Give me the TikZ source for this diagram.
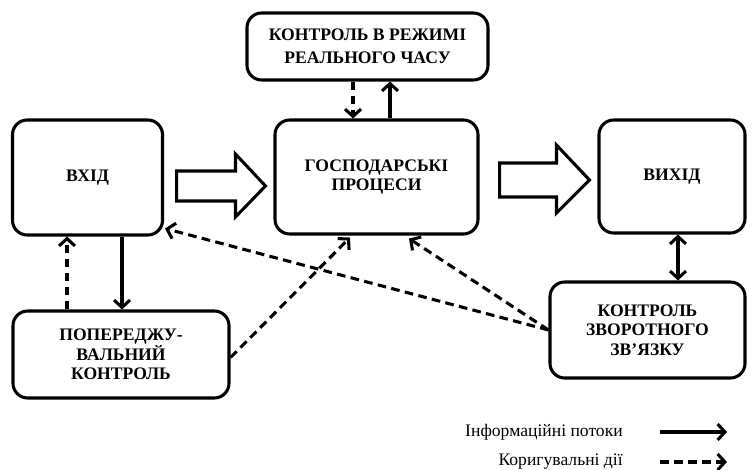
\documentclass[tikz,border=0pt]{standalone}
\usepackage{fontspec}
\setmainfont{Liberation Serif}[BoldFont={Liberation Serif Bold}]
\usetikzlibrary{arrows.meta,calc}
\begin{document}
\begin{tikzpicture}[x=0.75pt,y=-0.75pt,
 box/.style={draw, line width=2.3pt, rounded corners=11pt, align=center, font=\bfseries\fontsize{13.2}{14.8}\selectfont, inner sep=2pt},
 info/.style={line width=2.3pt, -{Straight Barb[length=5.5pt,width=12pt,line width=2.3pt]}},
 infob/.style={line width=2.3pt, {Straight Barb[length=5.5pt,width=12pt,line width=2.3pt]}-{Straight Barb[length=5.5pt,width=12pt,line width=2.3pt]}},
 corr/.style={info, dash pattern=on 6.5pt off 4pt},
 big/.style={draw, line width=2.3pt, line join=miter},
 legend/.style={anchor=east, inner sep=0pt, font=\fontsize{13.2}{15}\selectfont}]
\useasboundingbox (0,0) rectangle (752,470);
\node[box, minimum width=112.5pt, minimum height=86.25pt] (vhid) at (87.5,177.5) {ВХІД};
\node[box, minimum width=152.25pt, minimum height=85.5pt] (gosp) at (376.5,177) {ГОСПОДАРСЬКІ\\ПРОЦЕСИ};
\node[box, minimum width=109.5pt, minimum height=84.75pt] (vyhid) at (672,176.5) {ВИХІД};
\node[box, minimum width=146.25pt, minimum height=72pt] (zv) at (647.5,330) {КОНТРОЛЬ\\ЗВОРОТНОГО\\ЗВ’ЯЗКУ};
\node[box, minimum width=162pt, minimum height=65.25pt] (pop) at (121,354.5) {ПОПЕРЕДЖУ-\\ВАЛЬНИЙ\\КОНТРОЛЬ};
\node[box, minimum width=180.75pt, minimum height=50.25pt, font=\bfseries\fontsize{13.2}{17}\selectfont] (rt) at (367.5,46.5) {КОНТРОЛЬ В РЕЖИМІ\\РЕАЛЬНОГО ЧАСУ};
% big hollow arrows
\draw[big] ($(vhid.east)+(12.5,-6.5)$) -- ($(gosp.west)+(-38,-6)$) -- ($(gosp.west)+(-38,-23)$)
  -- ($(gosp.west)+(-8,9)$) -- ($(gosp.west)+(-38,40)$) -- ($(gosp.west)+(-38,24)$)
  -- ($(vhid.east)+(12.5,23.5)$) -- cycle;
\draw[big] ($(gosp.east)+(20,-14)$) -- ($(vyhid.west)+(-41,-13.5)$) -- ($(vyhid.west)+(-41,-31.5)$)
  -- ($(vyhid.west)+(-8,3.5)$) -- ($(vyhid.west)+(-41,36.5)$) -- ($(vyhid.west)+(-41,20.5)$)
  -- ($(gosp.east)+(20,20)$) -- cycle;
% connectors
\draw[info] (vhid.south -| 122,0) -- (pop.north -| 122,0);
\draw[corr] (pop.north -| 67,0) -- (vhid.south -| 67,0);
\draw[corr] ($(pop.east)+(0,3)$) -- ($(gosp.south -| 350,0)+(0,2)$);
\draw[corr] (zv.west) -- ($(vhid.south east)+(1,-8)$);
\draw[corr] (zv.west) -- ($(gosp.south -| 409,0)+(0,3)$);
\draw[infob] (vyhid.south -| 678,0) -- (zv.north -| 678,0);
\draw[corr] (rt.south -| 353,0) -- (gosp.north -| 353,0);
\draw[info] (gosp.north -| 390,0) -- (rt.south -| 390,0);
% legend
\node[legend] (l1) at (623,432) {Інформаційні потоки};
\node[legend] (l2) at (623,462) {Коригувальні дії};
\coordinate (la1) at (660,432); \coordinate (lb1) at (727,432);
\coordinate (la2) at (660,462); \coordinate (lb2) at (727,462);
\draw[info] (la1) -- (lb1);
\draw[corr] (la2) -- (lb2);
\end{tikzpicture}
\end{document}
